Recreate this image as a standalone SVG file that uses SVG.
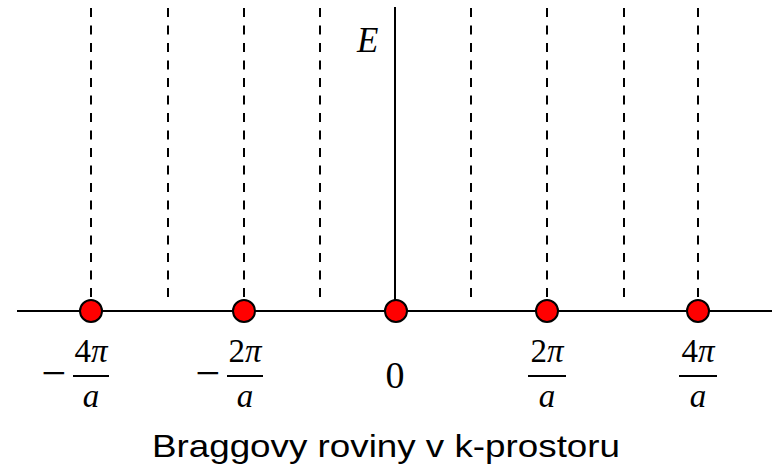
<svg xmlns="http://www.w3.org/2000/svg" width="773" height="468" viewBox="0 0 773 468">
<style>
.dash{stroke:#000;stroke-width:2;stroke-dasharray:9 8.5;fill:none}
.axis{stroke:#000;stroke-width:2;fill:none}
.dot{fill:#ff0000;stroke:#000;stroke-width:2}
.m{font-family:"Liberation Serif","DejaVu Serif",serif;font-size:33px;fill:#000}
.i{font-style:italic}
.bar{stroke:#000;stroke-width:2}
.minus{stroke:#000;stroke-width:2.5}
.title{font-family:"Liberation Sans",Arial,sans-serif;font-size:32px;fill:#000}
</style>
<rect width="773" height="468" fill="#fff"/>
<g id="connectors">
<line class="dash" x1="91" y1="8" x2="91" y2="305"/>
<line class="dash" x1="168" y1="8" x2="168" y2="305"/>
<line class="dash" x1="244" y1="8" x2="244" y2="305"/>
<line class="dash" x1="320" y1="8" x2="320" y2="305"/>
<line class="dash" x1="471" y1="8" x2="471" y2="305"/>
<line class="dash" x1="547" y1="8" x2="547" y2="305"/>
<line class="dash" x1="624" y1="8" x2="624" y2="305"/>
<line class="dash" x1="698" y1="8" x2="698" y2="305"/>
<line id="k-axis" class="axis" x1="17" y1="311" x2="772" y2="311"/>
<line id="e-axis" class="axis" x1="395" y1="7" x2="395" y2="311"/>
</g>
<g id="e-label"><text class="m i" x="357" y="52" style="font-size:35px">E</text></g>
<g id="node-m4"><circle class="dot" cx="91" cy="311" r="11"/>
<text class="m" x="54" y="388" text-anchor="middle" style="font-size:44px">−</text>
<text class="m" x="91" y="362" text-anchor="middle">4<tspan class="i">π</tspan></text>
<line class="bar" x1="73" y1="376" x2="109" y2="376"/>
<text class="m i" x="91" y="407" text-anchor="middle">a</text></g>
<g id="node-m2"><circle class="dot" cx="244" cy="311" r="11"/>
<text class="m" x="208" y="388" text-anchor="middle" style="font-size:44px">−</text>
<text class="m" x="245" y="362" text-anchor="middle">2<tspan class="i">π</tspan></text>
<line class="bar" x1="227" y1="376" x2="263" y2="376"/>
<text class="m i" x="245" y="407" text-anchor="middle">a</text></g>
<g id="node-0"><circle class="dot" cx="396" cy="311" r="11"/>
<text class="m" x="395" y="388" text-anchor="middle" style="font-size:38px">0</text></g>
<g id="node-p2"><circle class="dot" cx="547" cy="311" r="11"/>
<text class="m" x="547" y="362" text-anchor="middle">2<tspan class="i">π</tspan></text>
<line class="bar" x1="528" y1="376" x2="566" y2="376"/>
<text class="m i" x="547" y="407" text-anchor="middle">a</text></g>
<g id="node-p4"><circle class="dot" cx="698" cy="311" r="11"/>
<text class="m" x="698" y="362" text-anchor="middle">4<tspan class="i">π</tspan></text>
<line class="bar" x1="679" y1="376" x2="717" y2="376"/>
<text class="m i" x="698" y="407" text-anchor="middle">a</text></g>
<g id="title"><text class="title" x="152" y="457" textLength="468" lengthAdjust="spacingAndGlyphs">Braggovy roviny v k-prostoru</text></g>
</svg>
